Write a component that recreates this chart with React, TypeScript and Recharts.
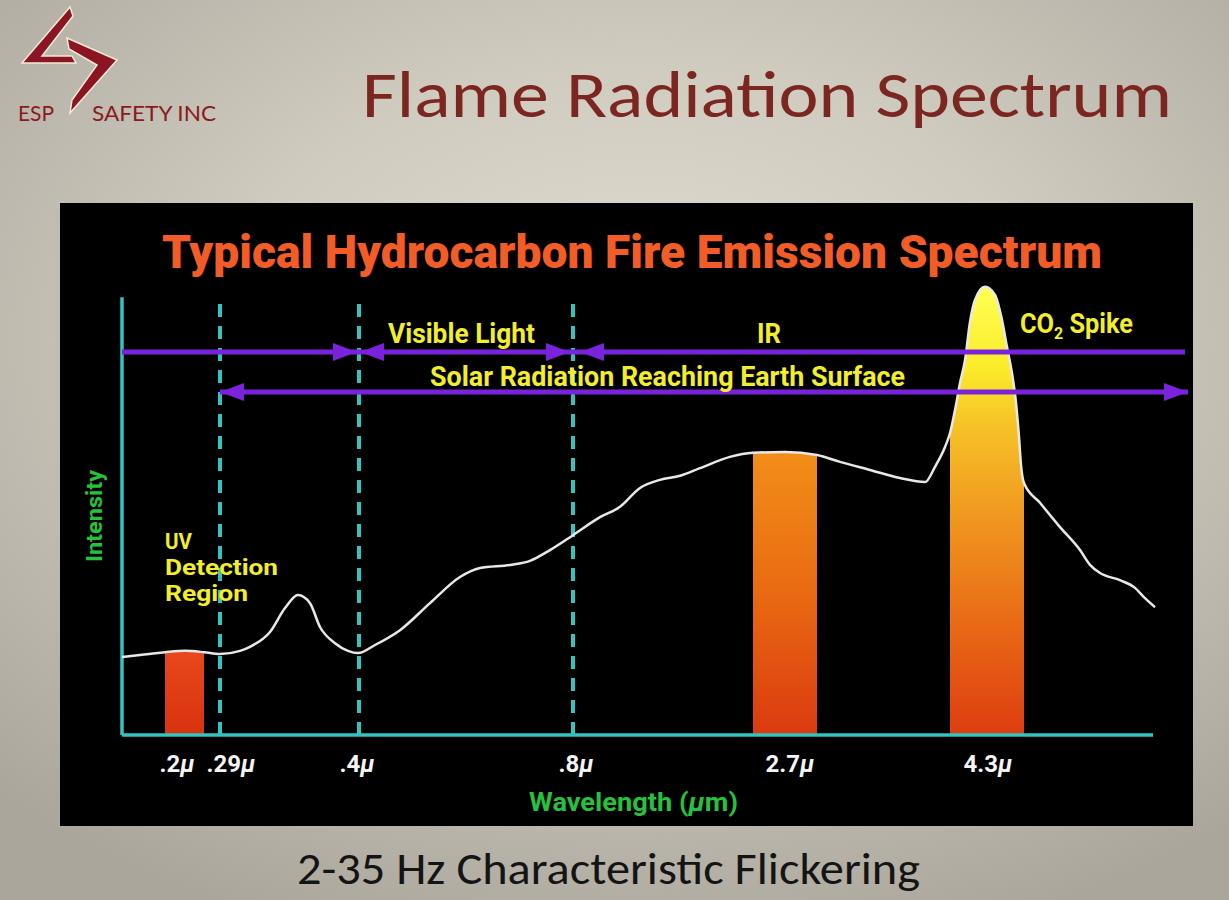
import React from "react";
import {
  ComposedChart,
  Line,
  Area,
  XAxis,
  YAxis,
  ReferenceLine,
  ReferenceDot,
} from "recharts";

// schematic wavelength axis: position along the (non-linear) axis, 0..107
const positions = [
  0, 1.8, 4.3, 6.3, 8.2, 9.8, 11.8, 12.8, 14.8, 16.3, 17.6, 18.8, 19.8, 21.3,
  22.6, 23.6, 25.3, 27.8, 30.8, 33.8, 35.8, 38.8, 40.8, 42.8, 45.1, 47.8, 49.8,
  51.8, 53.8, 55.8, 57.8, 60.8, 63.1, 66.3, 69.5, 71.8, 74.8, 77.8, 80.3, 81.3,
  82.3, 82.8, 83.3, 83.8, 84.3, 84.8, 85.3, 86.3, 87.3, 88.0, 88.5, 89.0, 89.4,
  89.7, 89.9, 90.2, 91.8, 93.8, 95.8, 96.8, 97.8, 99.8, 101.3, 102.3, 103.3,
];

// relative intensity (0..100)
const intensity = [
  17.3, 17.8, 18.4, 18.7, 18.4, 18.0, 18.7, 19.6, 22.9, 28.2, 31.1, 29.3, 24.0,
  20.4, 18.7, 18.2, 20.0, 23.3, 29.3, 35.1, 37.1, 37.8, 38.7, 41.1, 44.4, 48.4,
  50.7, 54.9, 56.7, 57.6, 59.3, 61.8, 62.7, 62.9, 62.2, 60.7, 58.9, 57.1, 56.2,
  59.6, 64.0, 67.1, 72.2, 78.2, 83.3, 91.8, 96.7, 99.6, 97.8, 92.2, 86.2, 80.4,
  73.8, 66.2, 60.0, 56.0, 51.6, 46.2, 41.1, 37.8, 36.0, 34.4, 32.7, 30.4, 28.4,
];

// detection bands (UV, IR 2.7, CO2 4.3)
const bandKeys = ["uv", "ir", "co2"];
const bandStart = [4.3, 63.1, 82.8];
const bandEnd = [8.2, 69.5, 90.2];

// tick labels
const tickPositions = [5.5, 10.9, 23.5, 45.4, 66.8, 86.6];
const tickLabels = [".2", ".29", ".4", ".8", "2.7", "4.3"];

// dashed boundaries (.29, .4, .8)
const dividerPositions = [9.8, 23.7, 45.1];
const axisTop = 97.3;
const axisEnd = 103.1;

// range arrows
const arrowRowY = [85.1, 76.2];
const arrowRowFrom = [0, 9.8];
const arrowRowTo = [106.3, 106.6];
const headX = [23.5, 23.8, 44.8, 45.8, 9.8, 106.6];
const headY = [85.1, 85.1, 85.1, 85.1, 76.2, 76.2];
const headDir = [1, -1, 1, -1, -1, 1];

const table = positions.map((x, i) => {
  const row: any = { x, intensity: intensity[i] };
  bandKeys.forEach((k, b) => {
    row[k] = x >= bandStart[b] && x <= bandEnd[b] ? intensity[i] : null;
  });
  return row;
});

const COND = "'Liberation Sans Narrow', 'Roboto', 'Liberation Sans', sans-serif";
const CYAN = "#33c4c2";
const PURPLE = "#7a22dc";
const YELLOW = "#f2ee2a";
const GREEN = "#26c23e";

const WaveTick = (props: any) => {
  const { x, y, payload } = props;
  const i = tickPositions.indexOf(payload.value);
  return (
    <text
      x={x}
      y={y + 29}
      textAnchor="middle"
      fill="#f4f4f4"
      fontSize={24}
      fontWeight={700}
      fontFamily={COND}
    >
      {tickLabels[i]}
      <tspan fontStyle="italic">μ</tspan>
    </text>
  );
};

const arrowHead = (dir: number) => (p: any) => {
  const { cx, cy } = p;
  const L = 24;
  const h = 9;
  const pts =
    dir > 0
      ? `${cx},${cy} ${cx - L},${cy - h} ${cx - L},${cy + h}`
      : `${cx},${cy} ${cx + L},${cy - h} ${cx + L},${cy + h}`;
  return <polygon points={pts} fill={PURPLE} />;
};

export default function App() {
  return (
    <div
      style={{
        position: "absolute",
        left: 0,
        top: 0,
        width: 1229,
        height: 900,
        overflow: "hidden",
        background:
          "radial-gradient(ellipse 75% 70% at 52% 38%, #e1ddd2 0%, #cfcbbf 45%, #aaa69c 100%)",
      }}
    >
      {/* black chart panel */}
      <div
        style={{
          position: "absolute",
          left: 60,
          top: 203,
          width: 1133,
          height: 623,
          background: "#000",
        }}
      >
        <ComposedChart
          width={1133}
          height={623}
          data={table}
          margin={{ top: 82, right: 1, bottom: 61, left: 62 }}
        >
          <defs>
            <linearGradient id="uvFill" x1="0" y1="0" x2="0" y2="1">
              <stop offset="0%" stopColor="#e8481c" />
              <stop offset="100%" stopColor="#d8320f" />
            </linearGradient>
            <linearGradient id="irFill" x1="0" y1="0" x2="0" y2="1">
              <stop offset="0%" stopColor="#f28e18" />
              <stop offset="50%" stopColor="#e96a12" />
              <stop offset="100%" stopColor="#db3a10" />
            </linearGradient>
            <linearGradient id="co2Fill" x1="0" y1="0" x2="0" y2="1">
              <stop offset="0%" stopColor="#ffff55" />
              <stop offset="18%" stopColor="#fbec2a" />
              <stop offset="30%" stopColor="#f7c427" />
              <stop offset="50%" stopColor="#f19a20" />
              <stop offset="75%" stopColor="#e96a16" />
              <stop offset="100%" stopColor="#dd3d10" />
            </linearGradient>
          </defs>
          <XAxis
            type="number"
            dataKey="x"
            domain={[0, 107]}
            ticks={tickPositions}
            interval={0}
            tick={<WaveTick />}
            axisLine={false}
            tickLine={false}
            height={30}
            allowDataOverflow
          />
          <YAxis type="number" domain={[0, 100]} hide allowDataOverflow />

          {bandKeys.map((k) => (
            <Area
              key={k}
              dataKey={k}
              type="monotone"
              stroke="none"
              fill={`url(#${k}Fill)`}
              fillOpacity={1}
              connectNulls={false}
              isAnimationActive={false}
            />
          ))}

          {/* axes */}
          <ReferenceLine
            segment={[
              { x: 0, y: 0 },
              { x: 0, y: axisTop },
            ]}
            stroke={CYAN}
            strokeWidth={3.5}
          />
          <ReferenceLine
            segment={[
              { x: 0, y: 0 },
              { x: axisEnd, y: 0 },
            ]}
            stroke={CYAN}
            strokeWidth={3.5}
          />

          {dividerPositions.map((d) => (
            <ReferenceLine
              key={d}
              segment={[
                { x: d, y: 0 },
                { x: d, y: axisTop },
              ]}
              stroke={CYAN}
              strokeWidth={4}
              strokeDasharray="13 9"
            />
          ))}

          <Line
            dataKey="intensity"
            type="monotone"
            stroke="#e8e8e8"
            strokeWidth={2.5}
            dot={false}
            isAnimationActive={false}
          />

          {arrowRowY.map((y, i) => (
            <ReferenceLine
              key={`row-${i}`}
              segment={[
                { x: arrowRowFrom[i], y },
                { x: arrowRowTo[i], y },
              ]}
              stroke={PURPLE}
              strokeWidth={5}
            />
          ))}
          {headX.map((x, i) => (
            <ReferenceDot
              key={`head-${i}`}
              x={x}
              y={headY[i]}
              r={1}
              shape={arrowHead(headDir[i])}
            />
          ))}
        </ComposedChart>
      </div>

      {/* slide and chart annotations */}
      <svg
        width={1229}
        height={900}
        style={{ position: "absolute", left: 0, top: 0, pointerEvents: "none" }}
      >
        {/* logo */}
        <polygon
          points="70,7 22,63 76,63 72,56 42,56 73,16"
          fill="#8b1522"
          stroke="#f3ead2"
          strokeWidth={1.5}
        />
        <polygon
          points="67,38 117,60 70,113 72,100 97,65 69,49"
          fill="#8b1522"
          stroke="#f3ead2"
          strokeWidth={1.5}
        />
        <text x={18} y={121} fontSize={22} fill="#8b1a1e" fontFamily="Lato, 'Noto Sans', sans-serif" textLength={36} lengthAdjust="spacingAndGlyphs">
          ESP
        </text>
        <text x={92} y={121} fontSize={22} fill="#8b1a1e" fontFamily="Lato, 'Noto Sans', sans-serif" textLength={124} lengthAdjust="spacingAndGlyphs">
          SAFETY INC
        </text>

        <text x={362} y={117} fontSize={66} fill="#7b2620" fontFamily="Carlito, Lato, 'Open Sans', sans-serif" textLength={810} lengthAdjust="spacingAndGlyphs">
          Flame Radiation Spectrum
        </text>

        <text x={162} y={268} fontSize={47} fontWeight={900} fill="#f25c26" fontFamily={COND} textLength={940} lengthAdjust="spacingAndGlyphs">
          Typical Hydrocarbon Fire Emission Spectrum
        </text>

        <text x={388} y={343} fontSize={27} fontWeight={700} fill={YELLOW} fontFamily={COND} textLength={147} lengthAdjust="spacingAndGlyphs">
          Visible Light
        </text>
        <text x={757} y={343} fontSize={27} fontWeight={700} fill={YELLOW} fontFamily={COND} textLength={24} lengthAdjust="spacingAndGlyphs">
          IR
        </text>
        <text x={430} y={386} fontSize={27} fontWeight={700} fill={YELLOW} fontFamily={COND} textLength={475} lengthAdjust="spacingAndGlyphs">
          Solar Radiation Reaching Earth Surface
        </text>
        <text x={1020} y={333} fontSize={27} fontWeight={700} fill={YELLOW} fontFamily={COND} textLength={113} lengthAdjust="spacingAndGlyphs">
          CO<tspan fontSize={17} dy={6}>2</tspan>
          <tspan dy={-6}> Spike</tspan>
        </text>

        <text x={165} y={549} fontSize={22} fontWeight={700} fill={YELLOW} fontFamily={COND} textLength={27} lengthAdjust="spacingAndGlyphs">
          UV
        </text>
        <text x={165} y={575} fontSize={22} fontWeight={700} fill={YELLOW} fontFamily={COND} textLength={113} lengthAdjust="spacingAndGlyphs">
          Detection
        </text>
        <text x={165} y={601} fontSize={22} fontWeight={700} fill={YELLOW} fontFamily={COND} textLength={83} lengthAdjust="spacingAndGlyphs">
          Region
        </text>

        <text x={102} y={516} fontSize={22} fontWeight={700} fill={GREEN} fontFamily={COND} textAnchor="middle" transform="rotate(-90 102 516)" textLength={92} lengthAdjust="spacingAndGlyphs">
          Intensity
        </text>
        <text x={529} y={811} fontSize={25} fontWeight={700} fill={GREEN} fontFamily={COND} textLength={209} lengthAdjust="spacingAndGlyphs">
          Wavelength (<tspan fontStyle="italic">μ</tspan>m)
        </text>

        <text x={297} y={884} fontSize={46} fill="#141414" fontFamily="Carlito, Lato, 'Open Sans', sans-serif" textLength={623} lengthAdjust="spacingAndGlyphs">
          2-35 Hz Characteristic Flickering
        </text>
      </svg>
    </div>
  );
}
